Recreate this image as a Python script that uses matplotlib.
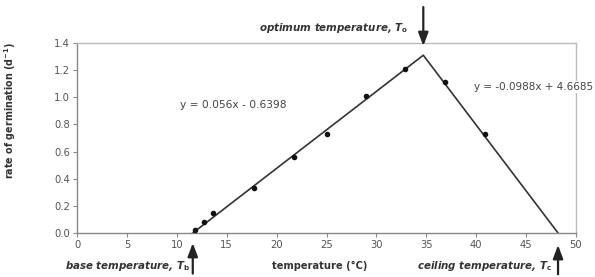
import matplotlib
matplotlib.use("Agg")
import matplotlib.pyplot as plt

# data
temp_pts = [11.8, 12.7, 13.6, 17.7, 21.7, 25.0, 29.0, 32.9, 36.9, 40.9]
rate_pts = [0.02, 0.08, 0.15, 0.33, 0.56, 0.73, 1.01, 1.21, 1.11, 0.73]
line_x = [11.6, 34.7, 48.2]
line_y = [0.0, 1.31, 0.0]
T_b, T_o, T_c = 11.6, 34.7, 48.2
eq1 = "y = 0.056x - 0.6398"
eq2 = "y = -0.0988x + 4.6685"
x_ticks = list(range(0, 51, 5))
y_ticks = [0.0, 0.2, 0.4, 0.6, 0.8, 1.0, 1.2, 1.4]

plt.rcParams['font.family'] = ['DejaVu Sans']
plt.rcParams['mathtext.fontset'] = 'custom'
plt.rcParams['mathtext.rm'] = 'DejaVu Sans:bold'
plt.rcParams['mathtext.it'] = 'DejaVu Sans:bold:italic'

W, H = 595, 277
fig = plt.figure(figsize=(W / 100, H / 100), dpi=100)
ax = fig.add_axes([77 / W, 1 - 233 / H, (576 - 77) / W, (233 - 43) / H])

txt = '#333333'
ax.plot(line_x, line_y, color='#333333', lw=1.2, zorder=2)
ax.plot(temp_pts, rate_pts, 'o', color='#111111', ms=3, zorder=3)

ax.set_xlim(0, 50)
ax.set_ylim(0, 1.4)
ax.set_xticks(x_ticks)
ax.set_yticks(y_ticks)
ax.set_yticklabels([f"{v:.1f}" for v in y_ticks])
ax.tick_params(direction='out', length=3, width=0.8, color='#888888',
               labelsize=7.2, labelcolor='#555555', pad=2)
for s in ['left', 'bottom']:
    ax.spines[s].set_color('#888888')
    ax.spines[s].set_linewidth(1.0)
for s in ['top', 'right']:
    ax.spines[s].set_color('#bbbbbb')
    ax.spines[s].set_linewidth(1.0)

fig.text(10 / W, 1 - 110 / H, r'rate of germination (d$^{-1}$)', rotation=90,
         fontsize=6.9, fontweight='bold', color=txt, ha='center', va='center')

fig.text(320 / W, 1 - 266 / H, 'temperature (°C)', fontsize=7.1, fontweight='bold',
         color=txt, ha='center', va='center')

ax.text(180 / W, 1 - 105 / H, eq1, transform=fig.transFigure, fontsize=7.7,
        color='#444444', ha='left', va='center')
ax.text(593 / W, 1 - 87 / H, eq2, transform=fig.transFigure, fontsize=7.5,
        color='#444444', ha='right', va='center', clip_on=False,
        bbox=dict(facecolor='white', edgecolor='none', pad=1))

lab_kw = dict(fontsize=7.4, fontweight='bold', fontstyle='italic', color=txt, va='center')
fig.text(408 / W, 1 - 28 / H, r'optimum temperature, $T_\mathrm{o}$', ha='right', **lab_kw)
fig.text(190 / W, 1 - 266 / H, r'base temperature, $T_\mathrm{b}$', ha='right', **lab_kw)
fig.text(552 / W, 1 - 266 / H, r'ceiling temperature, $T_\mathrm{c}$', ha='right', **lab_kw)

arr = dict(arrowstyle='-|>,head_width=0.3,head_length=0.8', color='#222222', lw=1.6,
           shrinkA=0, shrinkB=0, mutation_scale=10)
ax.annotate('', xy=(T_o, 1.378), xytext=(0, 28), textcoords='offset points',
            arrowprops=arr, annotation_clip=False)
ax.annotate('', xy=(T_b, -0.074), xytext=(0, -22), textcoords='offset points',
            arrowprops=arr, annotation_clip=False)
ax.annotate('', xy=(T_c, -0.089), xytext=(0, -21), textcoords='offset points',
            arrowprops=arr, annotation_clip=False)

fig.savefig('out.png', dpi=100)
